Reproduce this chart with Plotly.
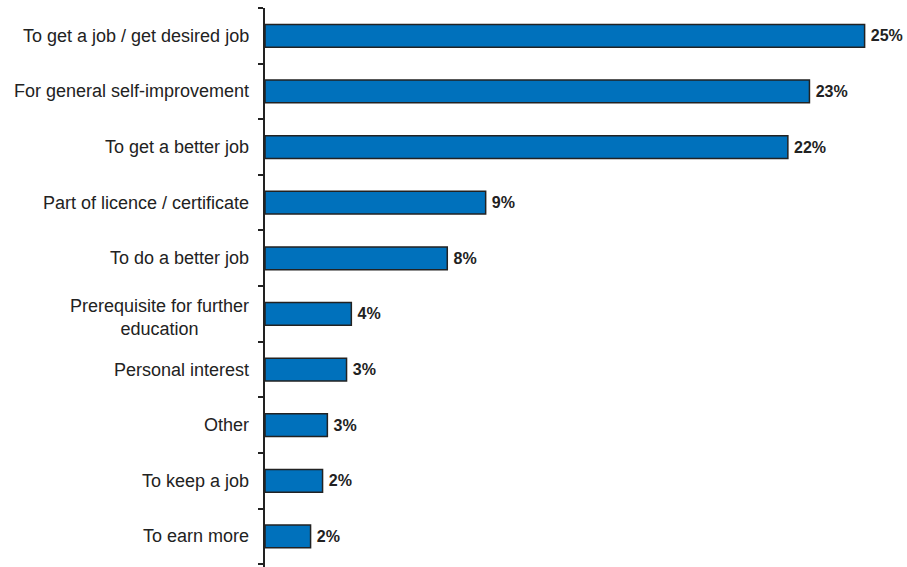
import plotly.graph_objects as go

# Reasons for studying, share of respondents (%)
reasons = [
    "To get a job / get desired job",
    "For general self-improvement",
    "To get a better job",
    "Part of licence / certificate",
    "To do a better job",
    "Prerequisite for further<br>education",
    "Personal interest",
    "Other",
    "To keep a job",
    "To earn more",
]
shares = [25.0, 22.7, 21.8, 9.2, 7.6, 3.6, 3.4, 2.6, 2.4, 1.9]

BAR_COLOR = "#0071BC"
INK = "#222222"
FONT = "Liberation Sans, Arial, sans-serif"

fig = go.Figure(
    go.Bar(
        x=shares,
        y=list(range(len(reasons))),
        orientation="h",
        width=0.41,
        marker=dict(color=BAR_COLOR, line=dict(color=INK, width=1.5)),
        text=[f"\u2009{v:.0f}%" for v in shares],
        textposition="outside",
        cliponaxis=False,
        textfont=dict(family=FONT, size=16, color=INK, weight="bold"),
        hoverinfo="skip",
    )
)

# Category names as right-anchored, centre-aligned labels left of the axis
for i, name in enumerate(reasons):
    fig.add_annotation(
        x=0, xref="paper", y=i, yref="y",
        text=name, showarrow=False,
        xanchor="right", yanchor="middle", align="center",
        xshift=-14,
        yshift=-4 if "<br>" in name else 0,
        font=dict(family=FONT, size=18, color=INK),
    )

fig.update_layout(
    width=907, height=567,
    margin=dict(l=265, r=28, t=8, b=0),
    paper_bgcolor="white", plot_bgcolor="white",
    showlegend=False,
    bargap=0.59,
    xaxis=dict(range=[0, 25.6], visible=False, fixedrange=True),
    yaxis=dict(
        range=[9.55, -0.5],
        tickmode="array",
        tickvals=[i - 0.5 for i in range(len(reasons) + 1)],
        ticktext=[""] * (len(reasons) + 1),
        ticks="outside", ticklen=5, tickwidth=2, tickcolor=INK,
        showline=True, linecolor=INK, linewidth=2,
        showgrid=False, zeroline=False, fixedrange=True,
    ),
)

fig.write_html("out.html")
